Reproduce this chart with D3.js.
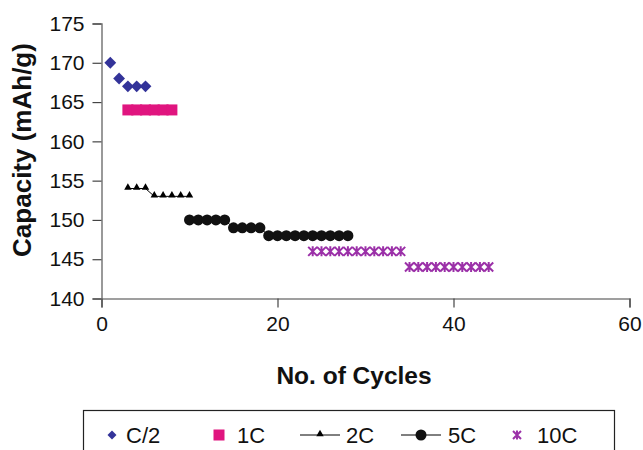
<!DOCTYPE html>
<html>
<head>
<meta charset="utf-8">
<script src="https://cdn.jsdelivr.net/npm/d3@7"></script>
<style>
  body { margin: 0; background: #fff; }
  text { font-family: "Liberation Sans", Arial, sans-serif; }
</style>
</head>
<body>
<div id="area"></div>
<script>
'use strict';

// cycle numbers and capacities per C-rate
const cyclesC2 = [1, 2, 3, 4, 5];
const capC2 = [170, 168, 167, 167, 167];

const cycles1C = [3, 4, 5, 6, 7, 8];
const cap1C = [164, 164, 164, 164, 164, 164];

const cycles2C = [3, 4, 5, 6, 7, 8, 9, 10];
const cap2C = [154, 154, 154, 153, 153, 153, 153, 153];

const cycles5C = [10, 11, 12, 13, 14, 15, 16, 17, 18, 19, 20, 21, 22, 23, 24, 25, 26, 27, 28];
const cap5C = [150, 150, 150, 150, 150, 149, 149, 149, 149, 148, 148, 148, 148, 148, 148, 148, 148, 148, 148];

const cycles10C = [24, 25, 26, 27, 28, 29, 30, 31, 32, 33, 34, 35, 36, 37, 38, 39, 40, 41, 42, 43, 44];
const cap10C = [146, 146, 146, 146, 146, 146, 146, 146, 146, 146, 146, 144, 144, 144, 144, 144, 144, 144, 144, 144, 144];

const xTicks = [0, 20, 40, 60];
const yTicks = [140, 145, 150, 155, 160, 165, 170, 175];
const seriesNames = ['C/2', '1C', '2C', '5C', '10C'];

const W = 643, H = 450;
const svg = d3.select('#area').append('svg').attr('width', W).attr('height', H);

const x = d3.scaleLinear().domain([0, 60]).range([101.5, 629.5]);
const y = d3.scaleLinear().domain([140, 175]).range([298.5, 23.5]);

// axes
const yAxis = svg.append('g').attr('transform', 'translate(101.5,0)')
  .call(d3.axisLeft(y).tickValues(yTicks).tickSize(9).tickPadding(8));
const xAxis = svg.append('g').attr('transform', 'translate(0,298.5)')
  .call(d3.axisBottom(x).tickValues(xTicks).tickSize(9).tickPadding(9));
[yAxis, xAxis].forEach(function (g) {
  g.select('.domain').attr('stroke', '#808080').attr('stroke-width', 1.6);
  g.selectAll('.tick line').attr('stroke', '#444').attr('stroke-width', 1.2);
  g.selectAll('.tick text').attr('font-size', 21).attr('fill', '#111')
    .style('font-family', '"Liberation Sans", Arial, sans-serif');
});

// titles
svg.append('text').attr('x', 354).attr('y', 384).attr('text-anchor', 'middle')
  .attr('font-size', 24.5).attr('font-weight', 'bold').attr('fill', '#111').text('No. of Cycles');
svg.append('text').attr('transform', 'translate(31,150) rotate(-90)').attr('text-anchor', 'middle')
  .attr('font-size', 26).attr('font-weight', 'bold').attr('fill', '#111').text('Capacity (mAh/g)');

function pts(xs, ys) { return xs.map(function (v, i) { return [v, ys[i]]; }); }

const line = d3.line().x(d => x(d[0])).y(d => y(d[1]));
const plot = svg.append('g');

// C/2 diamonds
plot.selectAll('.c2').data(pts(cyclesC2, capC2)).enter().append('path')
  .attr('d', d3.symbol(d3.symbolSquare, 70)())
  .attr('transform', d => 'translate(' + x(d[0]) + ',' + y(d[1]) + ') rotate(45)')
  .attr('fill', '#333399');

// 1C squares
plot.selectAll('.c1').data(pts(cycles1C, cap1C)).enter().append('rect')
  .attr('x', d => x(d[0]) - 5.5).attr('y', d => y(d[1]) - 5.5)
  .attr('width', 11).attr('height', 11).attr('fill', '#e0157f');

// 2C triangles with line
plot.append('path').datum(pts(cycles2C, cap2C)).attr('d', line)
  .attr('fill', 'none').attr('stroke', '#000').attr('stroke-width', 1);
plot.selectAll('.c2c').data(pts(cycles2C, cap2C)).enter().append('path')
  .attr('d', d3.symbol(d3.symbolTriangle, 24)())
  .attr('transform', d => 'translate(' + x(d[0]) + ',' + (y(d[1]) - 1) + ')')
  .attr('fill', '#000');

// 5C circles with line
plot.append('path').datum(pts(cycles5C, cap5C)).attr('d', line)
  .attr('fill', 'none').attr('stroke', '#000').attr('stroke-width', 1);
plot.selectAll('.c5').data(pts(cycles5C, cap5C)).enter().append('circle')
  .attr('cx', d => x(d[0])).attr('cy', d => y(d[1])).attr('r', 5.5).attr('fill', '#111');

// 10C asterisks
function star(g, cx, cy, s) {
  g.append('path')
    .attr('d', 'M' + (cx - s) + ',' + (cy - s) + 'L' + (cx + s) + ',' + (cy + s) +
      'M' + (cx - s) + ',' + (cy + s) + 'L' + (cx + s) + ',' + (cy - s) +
      'M' + cx + ',' + (cy - s - 0.5) + 'L' + cx + ',' + (cy + s + 0.5))
    .attr('stroke', '#9b30a8').attr('stroke-width', 2).attr('fill', 'none');
}
pts(cycles10C, cap10C).forEach(function (d) { star(plot, x(d[0]), y(d[1]), 4.5); });

// legend
const leg = svg.append('g');
leg.append('rect').attr('x', 83.5).attr('y', 410.5).attr('width', 531).attr('height', 60)
  .attr('fill', 'none').attr('stroke', '#222').attr('stroke-width', 1.2);
const ly = 435;
const legX = [112, 219, 320, 421, 517];
leg.append('path').attr('d', d3.symbol(d3.symbolSquare, 40)())
  .attr('transform', 'translate(' + legX[0] + ',' + ly + ') rotate(45)').attr('fill', '#333399');
leg.append('rect').attr('x', legX[1] - 5.5).attr('y', ly - 5.5).attr('width', 11).attr('height', 11).attr('fill', '#e0157f');
leg.append('line').attr('x1', legX[2] - 20).attr('x2', legX[2] + 20).attr('y1', ly).attr('y2', ly).attr('stroke', '#000');
leg.append('path').attr('d', d3.symbol(d3.symbolTriangle, 24)())
  .attr('transform', 'translate(' + legX[2] + ',' + (ly - 1) + ')').attr('fill', '#000');
leg.append('line').attr('x1', legX[3] - 20).attr('x2', legX[3] + 20).attr('y1', ly).attr('y2', ly).attr('stroke', '#000');
leg.append('circle').attr('cx', legX[3]).attr('cy', ly).attr('r', 5.5).attr('fill', '#111');
star(leg, legX[4], ly, 4);
const textX = [126, 237, 346, 448, 537];
seriesNames.forEach(function (n, i) {
  leg.append('text').attr('x', textX[i]).attr('y', ly + 8).attr('font-size', 22).attr('fill', '#111').text(n);
});
</script>
</body>
</html>
